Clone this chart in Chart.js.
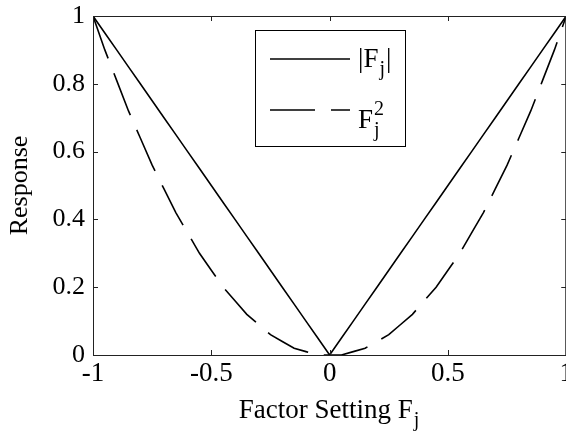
<!DOCTYPE html>
<html>
<head>
<meta charset="utf-8">
<script src="https://cdn.jsdelivr.net/npm/chart.js@4.4.0/dist/chart.umd.min.js"></script>
<style>
  html, body { margin: 0; padding: 0; background: #fff; overflow: hidden; }
  #wrap { width: 566px; height: 439px; overflow: hidden; }
</style>
</head>
<body>
<div id="wrap"><canvas id="chart" width="576" height="439"></canvas></div>
<script>
// values
const factorSetting = [-1, -0.95, -0.9, -0.85, -0.8, -0.75, -0.7, -0.65, -0.6, -0.55, -0.5,
    -0.45, -0.4, -0.35, -0.3, -0.25, -0.2, -0.15, -0.1, -0.05, 0,
    0.05, 0.1, 0.15, 0.2, 0.25, 0.3, 0.35, 0.4, 0.45, 0.5,
    0.55, 0.6, 0.65, 0.7, 0.75, 0.8, 0.85, 0.9, 0.95, 1];
const absResponse = [1, 0.95, 0.9, 0.85, 0.8, 0.75, 0.7, 0.65, 0.6, 0.55, 0.5,
    0.45, 0.4, 0.35, 0.3, 0.25, 0.2, 0.15, 0.1, 0.05, 0,
    0.05, 0.1, 0.15, 0.2, 0.25, 0.3, 0.35, 0.4, 0.45, 0.5,
    0.55, 0.6, 0.65, 0.7, 0.75, 0.8, 0.85, 0.9, 0.95, 1];
const squaredResponse = [1, 0.9, 0.81, 0.72, 0.64, 0.56, 0.49, 0.42, 0.36, 0.3, 0.25,
    0.2, 0.16, 0.12, 0.09, 0.06, 0.04, 0.02, 0.01, 0, 0,
    0, 0.01, 0.02, 0.04, 0.06, 0.09, 0.12, 0.16, 0.2, 0.25,
    0.3, 0.36, 0.42, 0.49, 0.56, 0.64, 0.72, 0.81, 0.9, 1];
const xTicks = [-1, -0.5, 0, 0.5, 1];
const yTicks = [0, 0.2, 0.4, 0.6, 0.8, 1];

const serif = '"Liberation Serif", "Times New Roman", serif';

// legend text pieces: base text, subscript, superscript
const legendItems = [
    { parts: [['|F', ''], ['j', 'sub'], ['|', '']] },
    { parts: [['F', ''], ['j', 'sub', '2']] }
];
const xTitleParts = [['Factor Setting F', ''], ['j', 'sub']];

function drawParts(ctx, parts, x, y, size) {
    // y is baseline
    parts.forEach(function (p) {
        if (p[1] === 'sub') {
            ctx.font = Math.round(size * 0.75) + 'px ' + serif;
            let w = ctx.measureText(p[0]).width;
            ctx.fillText(p[0], x + 1, y + size * 0.3);
            if (p[2]) {
                ctx.fillText(p[2], x + 1, y - size * 0.5);
                w = Math.max(w, ctx.measureText(p[2]).width);
            }
            x += w + 2;
        } else {
            ctx.font = size + 'px ' + serif;
            ctx.fillText(p[0], x, y);
            x += ctx.measureText(p[0]).width;
        }
    });
    return x;
}

function partsWidth(ctx, parts, size) {
    let w = 0;
    parts.forEach(function (p) {
        if (p[1] === 'sub') {
            ctx.font = Math.round(size * 0.75) + 'px ' + serif;
            w += ctx.measureText(p[0]).width + 2;
        } else {
            ctx.font = size + 'px ' + serif;
            w += ctx.measureText(p[0]).width;
        }
    });
    return w;
}

// matlab-like box with inward ticks, legend and x title
const boxPlugin = {
    id: 'boxPlugin',
    afterDraw(chart) {
        const ctx = chart.ctx;
        const a = chart.chartArea;
        const xs = chart.scales.x, ys = chart.scales.y;
        ctx.save();
        ctx.strokeStyle = '#222';
        ctx.lineWidth = 1;
        ctx.strokeRect(a.left + 0.5, a.top + 0.5, a.right - a.left - 1, a.bottom - a.top);
        ctx.beginPath();
        xTicks.forEach(function (v) {
            const px = Math.round(xs.getPixelForValue(v)) + 0.5;
            ctx.moveTo(px, a.bottom); ctx.lineTo(px, a.bottom - 5);
            ctx.moveTo(px, a.top); ctx.lineTo(px, a.top + 5);
        });
        yTicks.forEach(function (v) {
            const py = Math.round(ys.getPixelForValue(v)) + 0.5;
            ctx.moveTo(a.left, py); ctx.lineTo(a.left + 5, py);
            ctx.moveTo(a.right, py); ctx.lineTo(a.right - 5, py);
        });
        ctx.stroke();

        // legend
        const lx = 255, ly = 30, lw = 150, lh = 116;
        ctx.fillStyle = '#fff';
        ctx.fillRect(lx, ly, lw, lh);
        ctx.strokeStyle = '#000';
        ctx.strokeRect(lx + 0.5, ly + 0.5, lw, lh);
        const rowY = [59, 110];
        chart.data.datasets.forEach(function (ds, i) {
            ctx.beginPath();
            ctx.setLineDash(ds.borderDash || []);
            ctx.lineWidth = ds.borderWidth;
            ctx.strokeStyle = ds.borderColor;
            ctx.moveTo(270, rowY[i]);
            ctx.lineTo(350, rowY[i]);
            ctx.stroke();
            ctx.setLineDash([]);
            ctx.fillStyle = '#000';
            ctx.textBaseline = 'alphabetic';
            ctx.textAlign = 'left';
            drawParts(ctx, legendItems[i].parts, 358, rowY[i] + 8 + (i === 1 ? 10 : 0), 27);
        });

        // x title
        const tw = partsWidth(ctx, xTitleParts, 27);
        const cx = (a.left + a.right) / 2;
        ctx.fillStyle = '#000';
        drawParts(ctx, xTitleParts, cx - tw / 2, 418, 27);
        ctx.restore();
    }
};

const points = function (ys) {
    return factorSetting.map(function (x, i) { return { x: x, y: ys[i] }; });
};

const plainLabel = function (v) { return String(v); };

new Chart(document.getElementById('chart'), {
    type: 'line',
    data: {
        datasets: [{
            label: '|Fj|',
            data: points(absResponse),
            borderColor: '#000',
            borderWidth: 1.6,
            pointRadius: 0,
            tension: 0
        }, {
            label: 'Fj^2',
            data: points(squaredResponse),
            borderColor: '#000',
            borderWidth: 1.6,
            borderDash: [45, 16],
            pointRadius: 0,
            tension: 0
        }]
    },
    options: {
        responsive: false,
        animation: false,
        layout: { padding: { top: 16, left: 0, right: 0, bottom: 0 } },
        plugins: {
            legend: { display: false },
            tooltip: { enabled: false }
        },
        scales: {
            x: {
                type: 'linear',
                min: -1,
                max: 1,
                afterBuildTicks: function (s) { s.ticks = xTicks.map(function (v) { return { value: v }; }); },
                afterFit: function (s) { s.height = 84; },
                grid: { display: false, drawTicks: false },
                border: { display: false },
                ticks: {
                    color: '#000',
                    padding: 3,
                    maxRotation: 0,
                    callback: plainLabel,
                    font: { family: serif, size: 27 }
                }
            },
            y: {
                min: 0,
                max: 1,
                afterBuildTicks: function (s) { s.ticks = yTicks.map(function (v) { return { value: v }; }); },
                afterFit: function (s) { s.width = 93; },
                grid: { display: false, drawTicks: false },
                border: { display: false },
                ticks: {
                    color: '#000',
                    padding: 8,
                    callback: plainLabel,
                    font: { family: serif, size: 26, lineHeight: 0.6 }
                },
                title: {
                    display: true,
                    text: 'Response',
                    color: '#000',
                    font: { family: serif, size: 26 },
                    padding: { top: 5, bottom: 0 }
                }
            }
        }
    },
    plugins: [boxPlugin]
});
</script>
</body>
</html>
